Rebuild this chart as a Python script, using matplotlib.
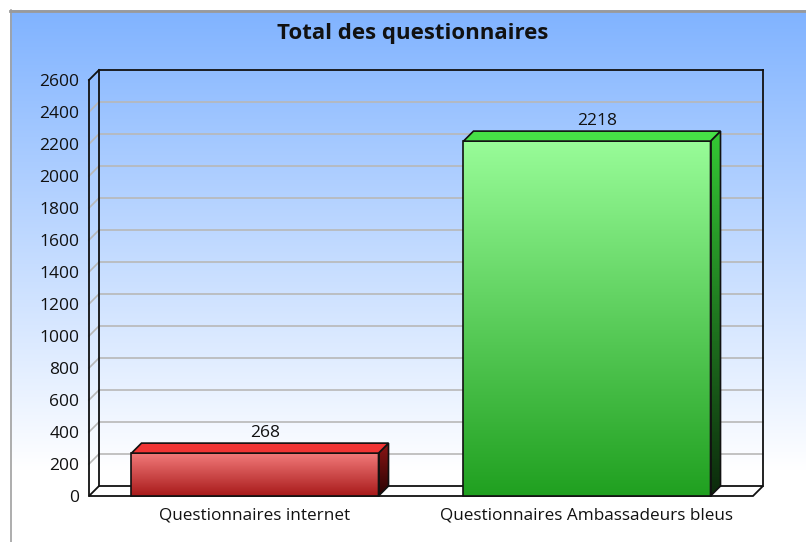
import numpy as np
import matplotlib
matplotlib.use("Agg")
import matplotlib.pyplot as plt
from matplotlib.patches import Polygon
from matplotlib.colors import to_rgb

plt.rcParams['font.family'] = ['Open Sans', 'DejaVu Sans']

title = "Total des questionnaires"
categories = ["Questionnaires internet", "Questionnaires Ambassadeurs bleus"]
values = [268, 2218]
yticks = list(range(0, 2601, 200))

front_top = ["#F27A7A", "#98FC98"]
front_bot = ["#A81A1A", "#20A020"]
top_col = ["#F03434", "#46E046"]
side_top = ["#8C1414", "#34C834"]
side_bot = ["#280404", "#0C2A0C"]

W, H = 806, 542
fig = plt.figure(figsize=(W / 100, H / 100), dpi=100)
fig.patch.set_facecolor("white")

# background gradient
bg = fig.add_axes([0, 0, 1, 1], zorder=-10)
bg.set_xlim(0, W)
bg.set_ylim(H, 0)
bg.axis("off")
topc = np.array(to_rgb("#80B3FF"))
white = np.array([1.0, 1.0, 1.0])
ys = np.arange(10, H + 1)
t = np.clip((ys - 10) / (470 - 10), 0, 1)[:, None]
grad = (topc * (1 - t) + white * t)[:, None, :]
bg.imshow(grad, extent=(10, W, H, 10), aspect="auto", interpolation="bilinear")
bg.plot([10.5, 10.5], [10, H], color="#a0a0a0", lw=1.2)
bg.plot([10, W], [10.5, 10.5], color="#9a9a9a", lw=2)

# main axes (front plane)
AXL, AXR, Y0, YT = 89, 753, 496, 80
ax = fig.add_axes([AXL / W, 1 - Y0 / H, (AXR - AXL) / W, (Y0 - YT) / H])
ax.patch.set_alpha(0)
XMIN, XMAX, YMAX = -0.5, 1.5, 2600
ax.set_xlim(XMIN, XMAX)
ax.set_ylim(0, YMAX)
for s in ax.spines.values():
    s.set_visible(False)

DXp, DYp = 10, 10
ddx = DXp / (AXR - AXL) * (XMAX - XMIN)
ddy = DYp / (Y0 - YT) * YMAX

grid_c = "#b8b8b8"
# floor
ax.add_patch(Polygon([(XMIN, 0), (XMAX, 0), (XMAX + ddx, ddy), (XMIN + ddx, ddy)],
                     closed=True, facecolor="white", edgecolor="#111111", lw=1.3,
                     clip_on=False, zorder=1))
for v in yticks[1:-1]:
    ax.plot([XMIN + ddx, XMAX + ddx], [v + ddy, v + ddy], color=grid_c, lw=1.2, clip_on=False, zorder=0.5)
    ax.plot([XMIN, XMIN + ddx], [v, v + ddy], color=grid_c, lw=1.2, clip_on=False, zorder=0.5)
k = dict(color="#111111", lw=1.3, clip_on=False, zorder=2)
ax.plot([XMIN + ddx, XMAX + ddx], [YMAX + ddy, YMAX + ddy], **k)
ax.plot([XMAX + ddx, XMAX + ddx], [ddy, YMAX + ddy], **k)
ax.plot([XMIN + ddx, XMIN + ddx], [ddy, YMAX + ddy], **k)
ax.plot([XMIN, XMIN], [0, YMAX], **k)
ax.plot([XMIN, XMIN + ddx], [YMAX, YMAX + ddy], **k)

xs = np.arange(len(categories))
bw = 0.744


def grad_poly(pts, c_top, c_bot, ylo, yhi, xlo, xhi, z):
    poly = Polygon(pts, closed=True, facecolor="none", edgecolor="#111111", lw=1.2,
                   clip_on=False, zorder=z + 0.1)
    ax.add_patch(poly)
    a, b = np.array(to_rgb(c_top)), np.array(to_rgb(c_bot))
    tt = np.linspace(0, 1, 200)[:, None]
    g = (a * (1 - tt) + b * tt)[:, None, :]
    im = ax.imshow(g, extent=(xlo, xhi, ylo, yhi), aspect="auto", origin="upper",
                   interpolation="bilinear", zorder=z)
    im.set_clip_path(poly)


for i, (x, v) in enumerate(zip(xs, values)):
    l, r = x - bw / 2, x + bw / 2
    # front face
    grad_poly([(l, 0), (r, 0), (r, v), (l, v)], front_top[i], front_bot[i], 0, v, l, r, 3)
    # side face
    grad_poly([(r, 0), (r + ddx, ddy), (r + ddx, v + ddy), (r, v)], side_top[i], side_bot[i],
              0, v + ddy, r, r + ddx, 3)
    # top face
    ax.add_patch(Polygon([(l, v), (r, v), (r + ddx, v + ddy), (l + ddx, v + ddy)], closed=True,
                         facecolor=top_col[i], edgecolor="#111111", lw=1.2, clip_on=False, zorder=3.2))
    ax.annotate(str(v), (x + ddx, v + ddy), xytext=(0, 1.5), textcoords="offset points",
                ha="center", va="bottom", fontsize=12.5, color="#111111", zorder=5)

ax.set_xlim(XMIN, XMAX)
ax.set_ylim(0, YMAX)
ax.set_yticks(yticks)
ax.set_yticklabels([str(v) for v in yticks], fontsize=12.5, color="#111111")
ax.set_xticks(xs)
ax.set_xticklabels(categories, fontsize=12.3, color="#111111")
ax.tick_params(axis="y", length=0, pad=7)
ax.tick_params(axis="x", length=0, pad=8)

fig.text(413 / W, 1 - 33 / H, title, ha="center", va="center", fontsize=16,
         fontweight="bold", color="#111111")

fig.savefig("out.png", dpi=100)
